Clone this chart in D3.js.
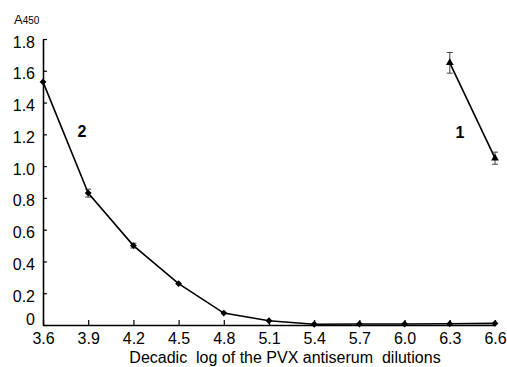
<!DOCTYPE html>
<html>
<head>
<meta charset="utf-8">
<script src="https://cdn.jsdelivr.net/npm/d3@7"></script>
<style>
  body { margin: 0; background: #fff; }
  text { font-family: "Liberation Sans", Arial, sans-serif; }
</style>
</head>
<body>
<div class="canvas"></div>
<script>
const xTicks = [3.6, 3.9, 4.2, 4.5, 4.8, 5.1, 5.4, 5.7, 6.0, 6.3, 6.6]
const yTicks = [0, 0.2, 0.4, 0.6, 0.8, 1.0, 1.2, 1.4, 1.6, 1.8]

// curve 2 (diamonds)
const x2 = [3.6, 3.9, 4.2, 4.5, 4.8, 5.1, 5.4, 5.7, 6.0, 6.3, 6.6]
const y2 = [1.53, 0.83, 0.50, 0.26, 0.075, 0.027, 0.005, 0.006, 0.006, 0.008, 0.01]
const e2 = [0, 0.025, 0.015, 0, 0, 0, 0, 0, 0, 0, 0]

// curve 1 (triangles)
const x1 = [6.3, 6.6]
const y1 = [1.65, 1.05]
const e1 = [0.065, 0.038]

const svg = d3.select('.canvas').append('svg').attr('width', 507).attr('height', 367)

const x = d3.scaleLinear().domain([3.6, 6.6]).range([43, 495])
const y = d3.scaleLinear().domain([0, 1.8]).range([325, 39])

const xAxis = d3.axisBottom(x).tickValues(xTicks).tickSizeInner(-5).tickSizeOuter(0).tickPadding(8).tickFormat(d3.format('.1f'))
const yAxis = d3.axisLeft(y).tickValues(yTicks).tickSizeInner(-4).tickSizeOuter(0).tickPadding(8)
    .tickFormat(d => d === 0 ? '0' : d3.format('.1f')(d))

const gx = svg.append('g').attr('transform', `translate(0, ${y(0)})`).call(xAxis)
const gy = svg.append('g').attr('transform', `translate(${x(3.6)}, 0)`).call(yAxis)

;[gx, gy].forEach(g => {
    g.select('.domain').attr('stroke', '#000').attr('stroke-width', 1.6)
    g.selectAll('.tick line').attr('stroke', '#000').attr('stroke-width', 1.2)
    g.selectAll('.tick text').attr('fill', '#000').attr('font-size', 16)
        .attr('font-family', '"Liberation Sans", Arial, sans-serif')
})
// labels sit a little below their ticks, except the zero which sits above
gy.selectAll('.tick text').attr('dy', d => d === 0 ? '-0.02em' : '0.5em')

// axis title
svg.append('text').attr('x', 285).attr('y', 363).attr('text-anchor', 'middle')
    .attr('font-size', 16).attr('xml:space', 'preserve')
    .text('Decadic  log of the PVX antiserum  dilutions')

const a450 = svg.append('text').attr('x', 14).attr('y', 24).attr('font-size', 13)
a450.append('tspan').text('A')
a450.append('tspan').attr('font-size', 10).text('450')

const line = d3.line().x(d => x(d[0])).y(d => y(d[1]))
const d2 = x2.map((v, i) => [v, y2[i], e2[i]])
const d1 = x1.map((v, i) => [v, y1[i], e1[i]])

const drawErr = (data) => {
    const g = svg.append('g').attr('stroke', '#444').attr('stroke-width', 1)
    data.filter(d => d[2] > 0).forEach(d => {
        const cx = x(d[0])
        g.append('line').attr('x1', cx).attr('x2', cx).attr('y1', y(d[1] - d[2])).attr('y2', y(d[1] + d[2]))
        g.append('line').attr('x1', cx - 3).attr('x2', cx + 3).attr('y1', y(d[1] - d[2])).attr('y2', y(d[1] - d[2]))
        g.append('line').attr('x1', cx - 3).attr('x2', cx + 3).attr('y1', y(d[1] + d[2])).attr('y2', y(d[1] + d[2]))
    })
}
drawErr(d2)
drawErr(d1)

svg.append('path').datum(d2).attr('d', line).attr('fill', 'none').attr('stroke', '#000').attr('stroke-width', 1.6)
svg.append('path').datum(d1).attr('d', line).attr('fill', 'none').attr('stroke', '#000').attr('stroke-width', 1.6)

svg.selectAll('.dia').data(d2).enter().append('path')
    .attr('d', d3.symbol(d3.symbolDiamond2, 30))
    .attr('transform', d => `translate(${x(d[0])}, ${y(d[1])})`)
    .attr('fill', '#000')

svg.selectAll('.tri').data(d1).enter().append('path')
    .attr('d', d3.symbol(d3.symbolTriangle, 26))
    .attr('transform', d => `translate(${x(d[0])}, ${y(d[1])})`)
    .attr('fill', '#000')

svg.append('text').attr('x', 82).attr('y', 137).attr('text-anchor', 'middle')
    .attr('font-size', 16).attr('font-weight', 'bold').text('2')
svg.append('text').attr('x', 460).attr('y', 138).attr('text-anchor', 'middle')
    .attr('font-size', 16).attr('font-weight', 'bold').text('1')
</script>
</body>
</html>
